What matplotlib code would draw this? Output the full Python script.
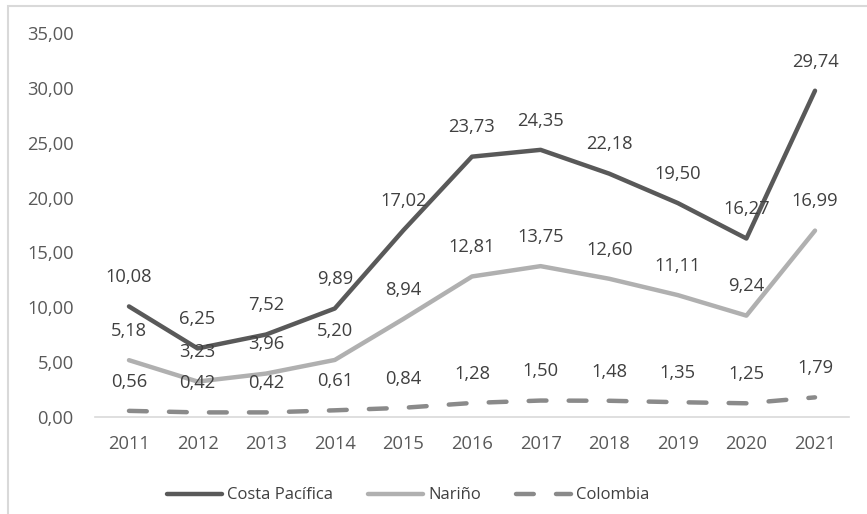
import matplotlib
matplotlib.use("Agg")
import matplotlib.pyplot as plt
from matplotlib.patches import Rectangle

years = [2011, 2012, 2013, 2014, 2015, 2016, 2017, 2018, 2019, 2020, 2021]
costa = [10.08, 6.25, 7.52, 9.89, 17.02, 23.73, 24.35, 22.18, 19.50, 16.27, 29.74]
narino = [5.18, 3.23, 3.96, 5.20, 8.94, 12.81, 13.75, 12.60, 11.11, 9.24, 16.99]
colombia = [0.56, 0.42, 0.42, 0.61, 0.84, 1.28, 1.50, 1.48, 1.35, 1.25, 1.79]
yticks = [0, 5, 10, 15, 20, 25, 30, 35]

series = [
    ("Costa Pacífica", costa, "#595959", "-"),
    ("Nariño", narino, "#b0b0b0", "-"),
    ("Colombia", colombia, "#8a8a8a", (0, (4, 5))),
]

plt.rcParams["font.family"] = ["Open Sans", "DejaVu Sans"]
FS = 13.2


def fmt(v):
    return f"{v:.2f}".replace(".", ",")


fig = plt.figure(figsize=(8.67, 5.14), dpi=100)
# chart frame, cut off on the right and bottom like the source image
fig.patches.append(Rectangle((8 / 867, -0.1), 1.2, 1 - 6 / 514 + 0.1,
                             transform=fig.transFigure, fill=False,
                             edgecolor="#d9d9d9", linewidth=1.5))
ax = fig.add_axes([0.1092, 0.1887, 0.8704, 0.7471])

for name, vals, color, ls in series:
    ax.plot(years, vals, color=color, linewidth=3.2, linestyle=ls,
            solid_capstyle="round", dash_capstyle="round",
            solid_joinstyle="round", label=name, zorder=3)
    for x, v in zip(years, vals):
        ax.annotate(fmt(v), (x, v), xytext=(0, 21),
                    textcoords="offset points", ha="center", va="center",
                    fontsize=FS, color="#404040", zorder=4)

ax.set_xlim(2010.5, 2021.5)
ax.set_ylim(0, 35)
ax.set_xticks(years)
ax.set_xticklabels([str(y) for y in years])
ax.set_yticks(yticks)
ax.set_yticklabels([fmt(t) for t in yticks])
ax.tick_params(axis="both", length=0, labelsize=FS, colors="#595959")
ax.tick_params(axis="y", pad=15)
ax.tick_params(axis="x", pad=13)
for side in ["top", "right", "left"]:
    ax.spines[side].set_visible(False)
ax.spines["bottom"].set_color("#d9d9d9")
ax.spines["bottom"].set_linewidth(1.2)

handles, labels = ax.get_legend_handles_labels()
fig.legend(handles, labels, loc="center",
           bbox_to_anchor=(0.471, 0.036), ncol=3, frameon=False,
           fontsize=12, labelcolor="#404040", handlelength=3.3,
           handletextpad=0.3, columnspacing=2.1)

fig.savefig("out.png", dpi=100)
